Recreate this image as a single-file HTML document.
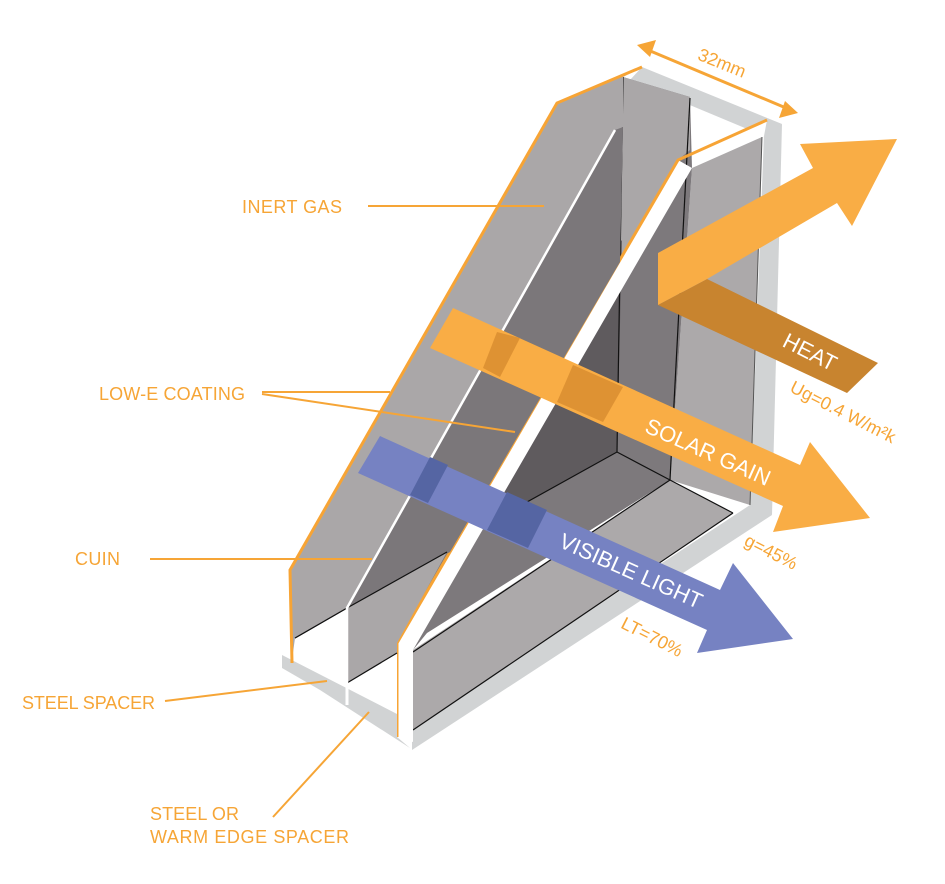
<!DOCTYPE html>
<html><head><meta charset="utf-8"><style>
html,body{margin:0;padding:0;background:#fff;}
svg{display:block;}
text{font-family:"Liberation Sans",sans-serif;}
.lab{fill:#f6a536;font-size:18px;}
.w{fill:#fff;font-size:22px;}
</style></head><body>
<svg width="945" height="884" viewBox="0 0 945 884" xmlns="http://www.w3.org/2000/svg">
<polygon points="642,67 782,124 764,136 630,80" fill="#d1d3d4"/>
<polygon points="764,134 782,124 772,515 750,507" fill="#d1d3d4"/>
<polygon points="750,505 772,515 412,750 412,728" fill="#d1d3d4"/>
<polygon points="678,160 767,120 764,136 692,168" fill="#fff"/>
<polygon points="692,168 762,137 750,505 670,480" fill="#aca9aa"/>
<line x1="762" y1="137" x2="750" y2="505" stroke="#555" stroke-width="1"/>
<polygon points="623,77 690,97 692,168 670,480 617,452 615,130" fill="#7d797c"/>
<polygon points="623,77 690,97 690,150 678,160 620,262 623,127" fill="#aaa7a8"/>
<polygon points="622,240 617,452 480,540 420,600 470,420" fill="#5f5b5e"/>
<polygon points="530,500 617,452 670,480 427,633 413,650 420,560" fill="#7d797c"/>
<polygon points="670,480 733,513 413,730 413,650" fill="#aca9aa"/>
<g stroke="#111" stroke-width="1.2" fill="none">
<line x1="623" y1="77" x2="617" y2="452"/>
<line x1="690" y1="98" x2="670" y2="480"/>
<polyline points="500,517 617,452 670,480 733,513"/>
<line x1="670" y1="480" x2="413" y2="652"/>
<line x1="733" y1="513" x2="413" y2="730"/>
</g>
<polygon points="678,160 692,168 413,650 413,742 397,737 397,643" fill="#fff"/>
<polyline points="767,120 678,160 397,643 397,737" fill="none" stroke="#f7a435" stroke-width="3"/>
<polygon points="615,130 623,127 620,262 450,552 347,608" fill="#7b777a"/>
<polygon points="347,608 447,552 397,643 397,653 347,683" fill="#aaa7a8"/>
<polygon points="293,640 347,608 347,683 397,653 397,716 293,663" fill="#fff"/>
<polygon points="282,655 397,714 397,737 410,748 320,690 282,668" fill="#d1d3d4"/>
<line x1="347" y1="683" x2="347" y2="705" stroke="#fff" stroke-width="3"/>
<g stroke="#111" stroke-width="1.2">
<line x1="295" y1="638" x2="347" y2="608"/>
<line x1="347" y1="608" x2="447" y2="552"/>
<line x1="347" y1="683" x2="397" y2="653"/>
</g>
<polygon points="290,570 557,103 642,67 623,77 623,127 615,130 347,608 295,638 292,660" fill="#aaa7a8"/>
<line x1="295" y1="638" x2="347" y2="608" stroke="#111" stroke-width="1.2"/>
<polyline points="615,130 347,608 347,690" fill="none" stroke="#fff" stroke-width="2.5"/>
<polyline points="642,67 557,103 290,570 292,663" fill="none" stroke="#f7a435" stroke-width="3"/>
<polygon points="453,308 800,465 810,442 870,518 773,532 783,506 430,348" fill="#f9ad45"/>
<polygon points="497,332 520,338 500,377 483,368" fill="#de9233"/>
<polygon points="573,365 623,387 603,422 557,402" fill="#de9233"/>
<polygon points="380,436 720,590 733,563 793,639 697,653 707,630 358,473" fill="#7682c2"/>
<polygon points="430,457 448,465 428,503 410,495" fill="#5565a3"/>
<polygon points="507,492 547,510 528,548 487,530" fill="#5565a3"/>
<polygon points="707,279 878,363 847,393 658,305" fill="#c8842f"/>
<polygon points="658,253 813,168 800,144 897,139 852,226 837,203 707,279 658,305" fill="#f9ad45"/>
<g stroke="#f6a536" stroke-width="2" fill="none">
<line x1="368" y1="206" x2="544" y2="206"/>
<line x1="262" y1="392" x2="390" y2="392"/>
<line x1="262" y1="394" x2="515" y2="432"/>
<line x1="150" y1="559" x2="372" y2="559"/>
<line x1="165" y1="701" x2="327" y2="681"/>
<line x1="273" y1="817" x2="369" y2="712"/>
<line x1="648" y1="50" x2="786" y2="108" stroke-width="3"/>
</g>
<polygon points="637,45 656,40 650,57" fill="#f6a536"/>
<polygon points="798,113 779,118 785,101" fill="#f6a536"/>
<text class="lab" x="242" y="213" textLength="100">INERT GAS</text>
<text class="lab" x="99" y="400" textLength="146">LOW-E COATING</text>
<text class="lab" x="75" y="565" textLength="45">CUIN</text>
<text class="lab" x="22" y="709" textLength="133">STEEL SPACER</text>
<text class="lab" x="150" y="820" textLength="89">STEEL OR</text>
<text class="lab" x="150" y="843" textLength="199">WARM EDGE SPACER</text>
<text class="lab" text-anchor="middle" dominant-baseline="central" transform="translate(722,63) rotate(22)">32mm</text>
<text class="w" text-anchor="middle" dominant-baseline="central" transform="translate(810,352) rotate(27)">HEAT</text>
<text class="w" text-anchor="middle" dominant-baseline="central" transform="translate(708,452) rotate(24)">SOLAR GAIN</text>
<text class="w" text-anchor="middle" dominant-baseline="central" transform="translate(631,571) rotate(24)">VISIBLE LIGHT</text>
<text class="lab" text-anchor="middle" dominant-baseline="central" transform="translate(843,412) rotate(27)">Ug=0.4 W/m²k</text>
<text class="lab" text-anchor="middle" dominant-baseline="central" transform="translate(771,552) rotate(27)">g=45%</text>
<text class="lab" text-anchor="middle" dominant-baseline="central" transform="translate(652,637) rotate(27)">LT=70%</text>
</svg>
</body></html>
